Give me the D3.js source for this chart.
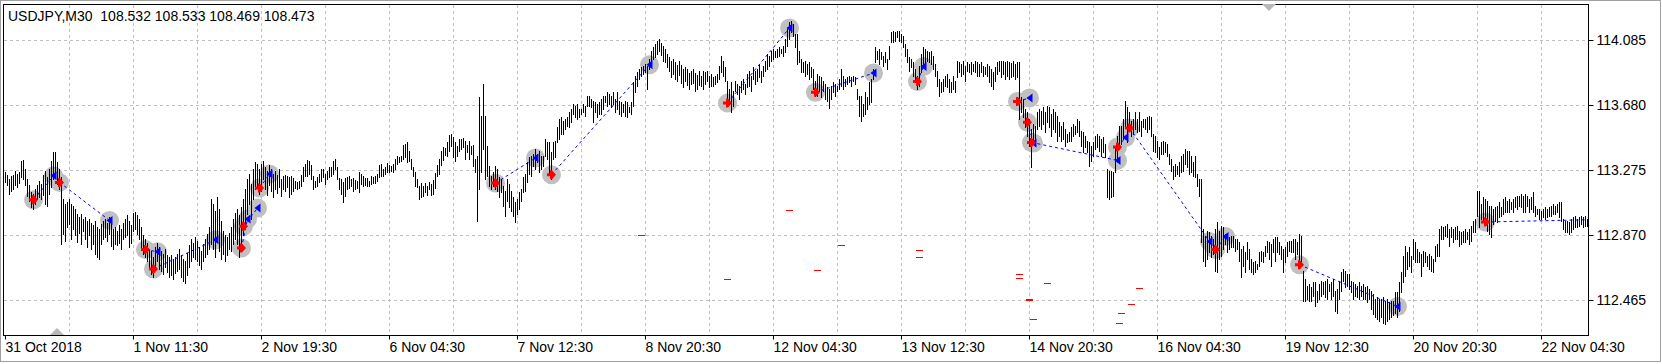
<!DOCTYPE html>
<html><head><meta charset="utf-8">
<script src="https://cdn.jsdelivr.net/npm/d3@7"></script>
<style>
html,body{margin:0;padding:0;background:#fff;}
svg{display:block;}
</style></head><body>
<svg id="c" width="1662" height="364"></svg>
<script>
const title = "USDJPY,M30  108.532 108.533 108.469 108.473";
const priceTicks = [114.085, 113.680, 113.275, 112.870, 112.465];
const timeLabels = ["31 Oct 2018","1 Nov 11:30","2 Nov 19:30","6 Nov 04:30","7 Nov 12:30","8 Nov 20:30","12 Nov 04:30","13 Nov 12:30","14 Nov 20:30","16 Nov 04:30","19 Nov 12:30","20 Nov 20:30","22 Nov 04:30"];
const labelStep = 64;   // bars between time labels
const gridStep = 32;    // bars between vertical grid lines

const highs = [
113.261,113.242,113.218,113.236,113.242,113.267,113.249,113.261,113.330,113.336,113.280,113.218,113.180,113.137,113.124,113.155,
113.180,113.205,113.186,113.242,113.267,113.230,113.280,113.330,113.386,113.386,113.324,113.280,113.230,113.093,113.062,113.074,
113.093,113.062,113.049,113.031,112.999,112.981,112.999,112.968,112.981,112.956,112.968,112.944,112.931,112.956,112.919,112.906,
112.937,112.956,112.968,112.944,112.981,112.937,112.906,112.919,112.894,112.931,112.906,112.944,112.968,112.993,112.956,112.931,
113.006,113.012,112.993,112.968,112.919,112.869,112.844,112.819,112.782,112.769,112.732,112.794,112.819,112.794,112.769,112.750,
112.782,112.744,112.732,112.744,112.719,112.732,112.750,112.782,112.744,112.719,112.707,112.757,112.806,112.844,112.819,112.856,
112.831,112.794,112.769,112.813,112.844,112.875,112.919,113.093,113.062,113.018,113.105,113.031,112.956,112.894,112.869,112.856,
112.881,112.919,112.968,113.006,113.031,112.993,113.043,113.093,113.155,113.218,113.249,113.186,113.280,113.324,113.311,113.280,
113.311,113.330,113.292,113.267,113.305,113.280,113.249,113.267,113.242,113.280,113.218,113.236,113.242,113.236,113.230,113.236,
113.224,113.205,113.199,113.205,113.242,113.292,113.311,113.336,113.330,113.305,113.236,113.205,113.230,113.249,113.280,113.280,
113.249,113.267,113.292,113.292,113.330,113.342,113.292,113.224,113.218,113.199,113.224,113.230,113.236,113.218,113.224,113.211,
113.205,113.261,113.249,113.236,113.224,113.224,113.205,113.236,113.230,113.236,113.249,113.305,113.311,113.280,113.292,113.317,
113.305,113.299,113.311,113.342,113.361,113.355,113.361,113.429,113.436,113.448,113.392,113.342,113.292,113.261,113.218,113.174,
113.193,113.174,113.193,113.174,113.199,113.186,113.211,113.255,113.305,113.342,113.392,113.417,113.411,113.448,113.492,113.498,
113.479,113.448,113.423,113.467,113.467,113.473,113.454,113.429,113.454,113.423,113.429,113.342,113.361,113.728,113.610,113.809,
113.610,113.423,113.299,113.236,113.261,113.299,113.280,113.230,113.218,113.174,113.143,113.218,113.186,113.143,113.105,113.074,
113.093,113.137,113.155,113.230,113.249,113.324,113.355,113.361,113.373,113.404,113.373,113.392,113.361,113.361,113.467,113.448,
113.448,113.386,113.448,113.454,113.542,113.591,113.604,113.579,113.591,113.604,113.635,113.654,113.685,113.672,113.685,113.654,
113.654,113.685,113.672,113.735,113.735,113.716,113.704,113.697,113.685,113.697,113.716,113.735,113.735,113.760,113.747,113.735,
113.760,113.716,113.760,113.704,113.697,113.685,113.704,113.697,113.666,113.697,113.822,113.859,113.884,113.903,113.915,113.922,
113.934,113.922,113.965,114.015,114.040,114.059,114.077,114.090,114.065,114.046,114.028,113.996,113.978,113.953,113.965,113.946,
113.928,113.953,113.928,113.903,113.915,113.903,113.878,113.890,113.903,113.878,113.866,113.890,
113.859,113.890,113.884,113.890,113.859,113.872,113.853,113.859,113.872,113.922,113.984,113.953,113.915,113.828,113.778,113.822,
113.766,113.828,113.809,113.797,113.828,113.841,113.809,113.872,113.890,113.859,113.915,113.890,113.903,113.934,113.890,113.922,
113.953,113.996,113.984,114.015,114.028,114.015,114.028,114.040,114.028,114.046,114.090,114.152,114.196,114.202,114.183,114.121,
114.121,114.015,113.965,113.946,113.953,113.934,113.946,113.915,113.903,113.828,113.872,113.859,113.853,113.828,113.809,113.791,
113.778,113.797,113.822,113.809,113.797,113.841,113.903,113.859,113.841,113.853,113.859,113.853,113.859,113.853,113.778,113.735,
113.735,113.685,113.760,113.728,113.822,113.841,113.903,114.040,114.015,114.028,114.009,113.984,114.009,113.965,114.046,114.133,
114.140,114.133,114.140,114.140,114.121,114.108,114.059,114.028,113.978,113.965,113.946,113.903,113.859,113.922,113.996,114.040,
114.028,114.015,114.009,114.015,113.984,113.934,113.890,113.841,113.822,113.841,113.859,113.872,113.841,113.822,113.859,113.828,
113.953,113.946,113.934,113.953,113.922,113.946,113.934,113.946,113.934,113.953,113.946,113.934,113.946,113.922,113.915,113.934,
113.922,113.903,113.884,113.915,113.946,113.953,113.953,113.953,113.946,113.953,113.946,113.940,113.953,113.934,113.946,113.946,
113.728,113.716,113.654,113.635,113.591,113.529,113.560,113.548,113.635,113.654,113.641,113.666,113.635,113.672,113.666,113.623,
113.654,113.635,113.610,113.573,113.548,113.573,113.529,113.498,113.510,113.542,113.560,113.548,113.591,113.579,113.517,113.510,
113.485,113.454,113.448,113.423,113.448,113.485,113.498,113.485,113.467,113.479,113.436,113.280,113.267,113.267,113.261,113.423,
113.485,113.548,113.548,113.591,113.704,113.666,113.635,113.579,113.591,113.635,113.591,113.635,113.579,113.591,113.591,113.604,
113.610,113.604,113.498,113.485,113.454,113.417,113.448,113.454,113.448,113.436,113.373,113.342,113.299,113.311,113.299,113.324,
113.361,113.373,113.404,113.392,113.392,113.361,113.324,113.361,113.249,113.218,113.218,112.906,112.863,112.894,112.887,112.863,
112.844,112.906,112.950,112.894,112.925,112.919,112.875,112.856,112.856,112.863,112.863,112.844,112.844,112.825,112.782,112.800,
112.763,112.825,112.782,112.719,112.700,112.707,112.688,112.763,112.769,112.763,112.800,112.831,112.825,112.813,112.844,112.856,
112.856,112.825,112.800,112.782,112.794,112.825,112.831,112.831,112.844,112.844,112.825,112.875,112.863,112.644,112.595,112.551,
112.563,112.545,112.576,112.576,112.520,112.563,112.582,112.576,112.582,112.595,112.563,112.576,112.595,112.520,112.532,112.582,
112.638,112.657,112.644,112.626,112.626,112.582,112.576,112.563,112.551,112.576,112.551,112.563,112.545,112.551,112.532,112.520,
112.501,112.470,112.482,112.470,112.470,112.482,112.457,112.470,112.451,112.457,112.457,112.514,112.514,112.576,112.638,112.738,
112.800,112.763,112.794,112.738,112.844,112.825,112.782,112.763,112.750,112.769,112.763,112.738,112.750,112.738,112.719,112.800,
112.813,112.906,112.925,112.919,112.925,112.937,112.906,112.919,112.906,112.919,112.925,112.894,112.887,112.894,112.906,112.887,
112.906,112.925,112.956,112.968,113.143,113.143,113.062,113.105,113.093,113.080,113.049,113.049,113.031,113.043,113.049,113.074,
113.043,113.093,113.105,113.080,113.093,113.074,113.093,113.105,113.112,113.112,113.124,113.112,113.124,113.112,113.093,113.105,
113.137,113.049,113.031,113.031,113.018,113.031,113.043,113.031,113.043,113.049,113.062,113.049,113.062,113.074,113.074,112.968,
112.956,112.956,112.950,112.968,112.981,112.987,112.968,112.981,112.987,112.981,112.987,112.968
];
const lows = [
113.199,113.180,113.124,113.143,113.155,113.180,113.168,113.193,113.230,113.218,113.180,113.112,113.080,113.043,113.031,113.062,
113.093,113.105,113.093,113.118,113.062,113.049,113.124,113.168,113.218,113.230,113.186,113.155,112.813,112.875,112.831,112.919,
112.937,112.844,112.906,112.869,112.825,112.881,112.813,112.894,112.844,112.794,112.869,112.782,112.813,112.750,112.732,112.719,
112.813,112.844,112.856,112.831,112.875,112.800,112.782,112.813,112.806,112.819,112.782,112.844,112.856,112.869,112.794,112.819,
112.894,112.906,112.875,112.844,112.782,112.750,112.732,112.707,112.657,112.626,112.607,112.669,112.707,112.657,112.644,112.626,
112.669,112.638,112.607,112.620,112.595,112.632,112.644,112.657,112.607,112.582,112.570,112.620,112.669,112.707,112.732,112.719,
112.707,112.682,112.657,112.707,112.732,112.750,112.782,112.813,112.782,112.732,112.844,112.769,112.719,112.750,112.707,112.744,
112.782,112.769,112.813,112.844,112.813,112.732,112.794,112.869,112.937,112.999,113.062,112.968,113.093,113.155,113.168,113.124,
113.143,113.218,113.155,113.118,113.180,113.143,113.105,113.155,113.130,113.168,113.112,113.155,113.143,113.168,113.105,113.124,
113.143,113.162,113.155,113.162,113.174,113.205,113.236,113.236,113.249,113.218,113.155,113.168,113.174,113.199,113.205,113.230,
113.186,113.218,113.230,113.236,113.249,113.280,113.218,113.155,113.124,113.074,113.112,113.155,113.162,113.174,113.143,113.155,
113.162,113.137,113.186,113.174,113.180,113.174,113.174,113.186,113.193,113.193,113.205,113.230,113.236,113.236,113.249,113.261,
113.261,113.267,113.261,113.280,113.311,113.324,113.330,113.342,113.355,113.324,113.330,113.280,113.236,113.174,113.168,113.093,
113.105,113.112,113.137,113.118,113.155,113.118,113.124,113.162,113.236,113.249,113.305,113.336,113.367,113.361,113.392,113.423,
113.355,113.330,113.361,113.392,113.404,113.417,113.342,113.386,113.342,113.373,113.299,113.261,112.956,113.155,113.261,113.404,
113.218,113.236,113.174,113.155,113.174,113.155,113.143,113.105,113.137,113.049,112.987,113.080,113.043,113.018,112.987,112.950,
112.999,113.031,113.080,113.137,113.143,113.199,113.249,113.236,113.299,113.280,113.324,113.261,113.280,113.299,113.361,113.342,
113.249,113.218,113.342,113.355,113.448,113.467,113.498,113.498,113.529,113.548,113.542,113.573,113.623,113.604,113.591,113.604,
113.623,113.635,113.610,113.672,113.672,113.666,113.573,113.635,113.604,113.623,113.623,113.654,113.697,113.672,113.685,113.666,
113.685,113.635,113.654,113.623,113.610,113.635,113.610,113.604,113.635,113.623,113.672,113.760,113.797,113.841,113.859,113.872,
113.884,113.778,113.903,113.928,113.965,113.978,113.996,114.015,113.990,113.953,113.946,113.915,113.890,113.853,113.872,113.841,
113.828,113.866,113.816,113.791,113.828,113.803,113.778,113.809,113.816,113.766,113.778,113.803,
113.797,113.778,113.809,113.828,113.791,113.797,113.797,113.809,113.822,113.841,113.884,113.859,113.828,113.704,113.685,113.635,
113.672,113.766,113.747,113.716,113.760,113.778,113.747,113.791,113.797,113.766,113.841,113.809,113.828,113.853,113.822,113.859,
113.890,113.903,113.922,113.953,113.965,113.978,113.978,113.984,114.003,113.984,114.009,114.046,114.090,114.133,114.108,114.040,
113.934,113.946,113.884,113.884,113.859,113.872,113.841,113.853,113.778,113.735,113.735,113.766,113.728,113.766,113.716,113.704,
113.660,113.716,113.760,113.735,113.766,113.778,113.797,113.778,113.797,113.809,113.822,113.797,113.828,113.809,113.716,113.610,
113.579,113.610,113.623,113.654,113.685,113.697,113.841,113.946,113.965,113.934,113.965,113.922,113.946,113.903,113.965,114.071,
114.071,114.077,114.102,114.077,114.071,114.040,113.984,113.946,113.890,113.915,113.859,113.822,113.778,113.797,113.884,113.934,
113.915,113.953,113.946,113.934,113.903,113.859,113.797,113.735,113.760,113.766,113.797,113.791,113.760,113.760,113.778,113.760,
113.853,113.884,113.859,113.872,113.828,113.890,113.884,113.872,113.890,113.884,113.859,113.859,113.884,113.859,113.872,113.859,
113.822,113.797,113.778,113.828,113.872,113.890,113.853,113.872,113.841,113.859,113.841,113.853,113.859,113.841,113.853,113.591,
113.635,113.604,113.542,113.485,113.423,113.292,113.448,113.423,113.529,113.548,113.529,113.560,113.510,113.573,113.542,113.485,
113.529,113.510,113.454,113.485,113.454,113.467,113.423,113.448,113.454,113.454,113.485,113.498,113.510,113.485,113.423,113.386,
113.417,113.386,113.299,113.330,113.361,113.404,113.417,113.392,113.361,113.386,113.355,113.105,113.093,113.105,113.112,113.261,
113.342,113.404,113.436,113.467,113.542,113.448,113.529,113.485,113.498,113.529,113.510,113.517,113.485,113.542,113.529,113.510,
113.529,113.485,113.392,113.386,113.355,113.342,113.373,113.373,113.386,113.361,113.311,113.267,113.218,113.236,113.249,113.236,
113.261,113.267,113.311,113.292,113.249,113.261,113.236,113.230,113.174,113.112,112.825,112.707,112.676,112.719,112.763,112.732,
112.750,112.644,112.638,112.719,112.738,112.782,112.813,112.763,112.782,112.794,112.794,112.769,112.782,112.707,112.607,112.676,
112.638,112.719,112.657,112.638,112.626,112.638,112.657,112.676,112.707,112.700,112.738,112.763,112.719,112.676,112.763,112.707,
112.763,112.750,112.719,112.638,112.700,112.738,112.769,112.763,112.763,112.719,112.750,112.688,112.707,112.457,112.457,112.470,
112.457,112.457,112.489,112.426,112.451,112.470,112.489,112.501,112.482,112.470,112.520,112.470,112.489,112.395,112.383,112.470,
112.520,112.582,112.545,112.551,112.532,112.514,112.470,112.489,112.482,112.470,112.489,112.470,112.470,112.451,112.470,112.408,
112.377,112.358,112.345,112.333,112.358,112.320,112.314,112.333,112.345,112.358,112.370,112.383,112.358,112.395,112.514,112.576,
112.613,112.657,112.676,112.638,112.719,112.700,112.700,112.700,112.613,112.676,112.700,112.676,112.657,112.644,112.638,112.707,
112.738,112.738,112.844,112.844,112.863,112.856,112.800,112.856,112.825,112.844,112.844,112.800,112.813,112.825,112.825,112.844,
112.813,112.831,112.887,112.887,112.987,112.919,112.968,112.956,112.950,112.894,112.875,112.856,112.937,112.956,112.950,112.981,
112.987,112.999,113.012,113.012,113.012,113.031,113.012,113.043,113.031,113.049,113.043,113.012,113.012,113.049,113.012,113.031,
113.012,112.987,112.999,112.968,112.968,112.981,112.968,112.981,112.987,112.987,112.999,112.999,113.012,112.981,112.956,112.906,
112.887,112.887,112.875,112.887,112.906,112.919,112.919,112.925,112.937,112.919,112.925,112.925
];

// trades: red arrow at open, blue triangle at close, dotted blue line between
const openBar    = [14,27,70,74,118,119,127,245,273,361,405,456,506,511,513,556,562,605,647,740];
const openPrice  = [113.093,113.201,112.782,112.661,112.792,112.927,113.166,113.197,113.249,113.695,113.762,113.830,113.705,113.575,113.450,113.421,113.540,112.782,112.688,112.954];
const closeBar   = [24,52,76,105,121,126,132,265,322,392,434,459,512,514,556,560,602,610,696,null];
const closePrice = [113.242,112.964,112.769,112.844,112.973,113.041,113.253,113.353,113.934,114.163,113.882,113.923,113.727,113.446,113.338,113.481,112.833,112.864,112.428,null];
const lastPrice = 112.968;

// small red level marks
const dashBar   = [318,361,392,406,418,457,457,507,507,521,512,512,514,567,563,558,557];
const dashPrice = [112.869,112.593,113.024,112.655,112.806,112.774,112.734,112.630,112.605,112.574,112.474,112.468,112.344,112.537,112.437,112.381,112.319];

const N = highs.length;
const svg = d3.select("#c");
const FONT = "'Liberation Sans', Arial, sans-serif";
const X = d3.scaleLinear().domain([0, N - 1]).range([5, 5 + 2 * (N - 1)]);
const Y = d3.scaleLinear().domain([112.465, 114.085]).range([300, 40]);
const L = 3.5, T = 4.5, R = 1588.5, B = 335.5;

// window edge
svg.append("rect").attr("x", 0.5).attr("y", 0.5).attr("width", 1660).attr("height", 361)
  .attr("fill", "#fff").attr("stroke", "#a0a0a0");

// grid
const grid = svg.append("g").attr("stroke", "#c0c0c0").attr("stroke-dasharray", "3,3").attr("shape-rendering", "crispEdges");
grid.selectAll(".h").data(priceTicks).join("line")
  .attr("x1", L).attr("x2", R).attr("y1", d => Y(d) + 0.5).attr("y2", d => Y(d) + 0.5);
grid.selectAll(".v").data(d3.range(gridStep, N, gridStep)).join("line")
  .attr("x1", d => X(d) + 0.5).attr("x2", d => X(d) + 0.5).attr("y1", T).attr("y2", B);

// position-circles
const allMarks = [];
openBar.forEach((b, i) => allMarks.push({b, p: openPrice[i], t: "o"}));
closeBar.forEach((b, i) => { if (b !== null) allMarks.push({b, p: closePrice[i], t: "c"}); });
svg.append("g").selectAll("circle").data(allMarks).join("circle")
  .attr("cx", d => X(d.b) + 0.5).attr("cy", d => Y(d.p) + 0.5).attr("r", 9.5).attr("fill", "#c0c0c0");

// bars
svg.append("g").attr("shape-rendering", "crispEdges").selectAll("rect").data(highs).join("rect")
  .attr("x", (d, i) => X(i)).attr("width", 1)
  .attr("y", d => Math.round(Y(d)))
  .attr("height", (d, i) => Math.max(1, Math.round(Y(lows[i])) - Math.round(Y(d)) + 1))
  .attr("fill", "#000");

// red dashes
svg.append("g").attr("shape-rendering", "crispEdges").selectAll("rect").data(dashBar).join("rect")
  .attr("x", d => X(d) - 3).attr("width", 7)
  .attr("y", (d, i) => Math.round(Y(dashPrice[i]))).attr("height", 1)
  .attr("fill", "#ff0000");

// trade lines
const lines = openBar.map((b, i) => ({
  x1: X(b) + 0.5, y1: Y(openPrice[i]) + 0.5,
  x2: closeBar[i] === null ? R : X(closeBar[i]) + 0.5,
  y2: closeBar[i] === null ? Y(lastPrice) + 0.5 : Y(closePrice[i]) + 0.5
}));
svg.append("g").selectAll("line").data(lines).join("line")
  .attr("x1", d => d.x1).attr("y1", d => d.y1).attr("x2", d => d.x2).attr("y2", d => d.y2)
  .attr("stroke", "#0000ff").attr("stroke-width", 1).attr("stroke-dasharray", "3,3");

// close markers (blue triangles pointing left)
svg.append("g").selectAll("path").data(allMarks.filter(d => d.t === "c")).join("path")
  .attr("transform", d => `translate(${X(d.b) + 0.5},${Y(d.p) + 0.5})`)
  .attr("d", "M-3,0L3,-4.5L3,4.5Z").attr("fill", "#0000ff");
// open markers (red arrows)
svg.append("g").selectAll("path").data(allMarks.filter(d => d.t === "o")).join("path")
  .attr("transform", d => `translate(${X(d.b) + 0.5},${Y(d.p) + 0.5})`)
  .attr("d", "M-4.5,-1.5H-1.5V-4.5H0.5L4.5,0L0.5,4.5H-1.5V1.5H-4.5Z").attr("fill", "#ff0000");

// frame
svg.append("rect").attr("x", L).attr("y", T).attr("width", R - L).attr("height", B - T)
  .attr("fill", "none").attr("stroke", "#000").attr("shape-rendering", "crispEdges");

// shift markers
svg.append("path").attr("d", "M1262,4L1276,4L1269,11Z").attr("fill", "#b8b8b8");
svg.append("path").attr("d", "M50,335L64,335L57,328Z").attr("fill", "#b8b8b8");

// price axis
const yAxis = d3.axisRight(Y).tickValues(priceTicks).tickFormat(d3.format(".3f")).tickSize(5).tickSizeOuter(0).tickPadding(3);
const gy = svg.append("g").attr("transform", `translate(${R},0)`).call(yAxis);
gy.select(".domain").remove();
gy.selectAll("text").attr("font-family", FONT).attr("font-size", 14).attr("fill", "#000");

// time axis
const xAxis = d3.axisBottom(X).tickValues(timeLabels.map((t, i) => i * labelStep))
  .tickFormat((d, i) => timeLabels[i]).tickSize(4).tickSizeOuter(0).tickPadding(2.5);
const gx = svg.append("g").attr("transform", `translate(0,${B})`).call(xAxis);
gx.select(".domain").remove();
gx.selectAll("text").attr("font-family", FONT).attr("font-size", 14).attr("fill", "#000").attr("text-anchor", "start");

// title
svg.append("text").attr("x", 8).attr("y", 20.5).attr("font-family", FONT).attr("font-size", 14)
  .attr("xml:space", "preserve").style("white-space", "pre").text(title);
</script>
</body></html>
